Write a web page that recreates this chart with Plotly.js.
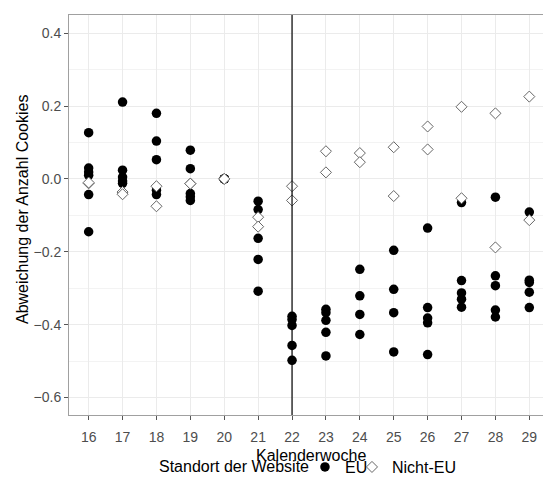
<!DOCTYPE html>
<html>
<head>
<meta charset="utf-8">
<script src="https://cdn.plot.ly/plotly-3.0.1.min.js"></script>
<style>
html,body{margin:0;padding:0;background:#fff;overflow:hidden;}
#wrap{width:543px;height:481px;overflow:hidden;}
#chart{width:551px;height:481px;}
</style>
</head>
<body>
<div id="wrap"><div id="chart"></div></div>
<script>
// Calendar weeks
const weeks = [16, 17, 18, 19, 20, 21, 22, 23, 24, 25, 26, 27, 28, 29];

// EU websites: deviation per week
const euValues = [
  [0.127, 0.030, 0.019, 0.010, -0.043, -0.145],
  [0.211, 0.024, 0.005, -0.006, -0.012],
  [0.180, 0.104, 0.053, -0.031, -0.043],
  [0.079, 0.028, -0.040, -0.049, -0.059],
  [0.000, 0.000, 0.000, 0.000, 0.000],
  [-0.061, -0.084, -0.163, -0.221, -0.308],
  [-0.377, -0.386, -0.402, -0.457, -0.498],
  [-0.358, -0.367, -0.388, -0.421, -0.486],
  [-0.248, -0.321, -0.372, -0.427],
  [-0.196, -0.303, -0.367, -0.475],
  [-0.135, -0.353, -0.382, -0.395, -0.482],
  [-0.065, -0.279, -0.313, -0.330, -0.352],
  [-0.050, -0.266, -0.293, -0.360, -0.379],
  [-0.091, -0.278, -0.284, -0.311, -0.353]
];

// Non-EU websites: deviation per week
const nonEuValues = [
  [-0.012, -0.010],
  [-0.036, -0.042],
  [-0.020, -0.075],
  [-0.013, -0.013],
  [0.000, 0.000],
  [-0.105, -0.131],
  [-0.020, -0.059],
  [0.076, 0.018],
  [0.071, 0.046],
  [0.087, -0.047],
  [0.144, 0.081],
  [0.198, -0.053],
  [0.180, -0.188],
  [0.226, -0.113]
];

const yTicks = [-0.6, -0.4, -0.2, 0.0, 0.2, 0.4];
const yMinorTicks = [-0.5, -0.3, -0.1, 0.1, 0.3];
const markerWeek = 22;

function flatten(groups) {
  const xs = [], ys = [];
  groups.forEach((vals, i) => vals.forEach(v => { xs.push(weeks[i]); ys.push(v); }));
  return {xs, ys};
}

const eu = flatten(euValues);
const nonEu = flatten(nonEuValues);

const font = "Liberation Sans, Arial, Helvetica, sans-serif";

const traces = [
  {
    type: 'scatter', mode: 'markers', name: 'EU', legend: 'legend',
    x: eu.xs, y: eu.ys,
    marker: {symbol: 'circle', size: 9.5, color: '#000000', line: {width: 0}},
    cliponaxis: false
  },
  {
    type: 'scatter', mode: 'markers', name: 'Nicht-EU', legend: 'legend2',
    x: nonEu.xs, y: nonEu.ys,
    marker: {symbol: 'diamond', size: 8.5, color: '#ffffff', line: {width: 1, color: '#666666'}},
    cliponaxis: false
  }
];

const legendBase = {
  orientation: 'h', xref: 'container', yref: 'container',
  xanchor: 'left', y: 0.029, yanchor: 'middle',
  font: {family: font, size: 16, color: '#000'},
  bgcolor: 'rgba(0,0,0,0)', itemwidth: 30
};

const layout = {
  width: 551, height: 481,
  margin: {l: 69, r: 0, t: 15, b: 66, autoexpand: false},
  paper_bgcolor: '#ffffff', plot_bgcolor: '#ffffff',
  font: {family: font, size: 14, color: '#000000'},
  showlegend: true,
  legend: Object.assign({}, legendBase, {x: 0.5535}),
  legend2: Object.assign({}, legendBase, {x: 0.6388}),
  xaxis: {
    range: [15.42, 29.64],
    automargin: false,
    tickmode: 'array', tickvals: weeks, ticktext: weeks.map(String),
    ticks: 'outside', ticklen: 4, tickcolor: '#555555', tickwidth: 1,
    ticklabelstandoff: 5,
    tickfont: {family: font, size: 14, color: '#4d4d4d'},
    showgrid: true, gridcolor: '#ebebeb', gridwidth: 1,
    zeroline: false,
    showline: true, linecolor: '#a0a0a0', linewidth: 1, mirror: true
  },
  yaxis: {
    range: [-0.648, 0.45],
    automargin: false,
    tickmode: 'array', tickvals: yTicks, tickformat: '.1f',
    ticks: 'outside', ticklen: 4, tickcolor: '#555555', tickwidth: 1,
    tickfont: {family: font, size: 14, color: '#4d4d4d'},
    showgrid: true, gridcolor: '#ebebeb', gridwidth: 1,
    minor: {tickvals: yMinorTicks, showgrid: true, gridcolor: '#f3f3f3', gridwidth: 1, ticks: ''},
    zeroline: false,
    showline: true, linecolor: '#a0a0a0', linewidth: 1, mirror: true
  },
  annotations: [
    {text: 'Kalenderwoche', xref: 'paper', yref: 'paper', x: 0.502, y: -0.1,
     xanchor: 'center', yanchor: 'middle', showarrow: false,
     font: {family: font, size: 16, color: '#000'}},
    {text: 'Abweichung der Anzahl Cookies', xref: 'paper', yref: 'paper', x: -0.0975, y: 0.5125,
     xanchor: 'center', yanchor: 'middle', textangle: -90, showarrow: false,
     font: {family: font, size: 16, color: '#000'}},
    {text: 'Standort der Website', xref: 'paper', yref: 'paper', x: 0.502, y: -0.13,
     xanchor: 'right', yanchor: 'middle', showarrow: false,
     font: {family: font, size: 16, color: '#000'}}
  ],
  shapes: [
    {type: 'line', xref: 'x', yref: 'paper', x0: markerWeek, x1: markerWeek, y0: 0, y1: 1,
     line: {color: '#000000', width: 1.2}, layer: 'above'}
  ]
};

Plotly.newPlot('chart', traces, layout, {displayModeBar: false, staticPlot: true});
</script>
</body>
</html>
